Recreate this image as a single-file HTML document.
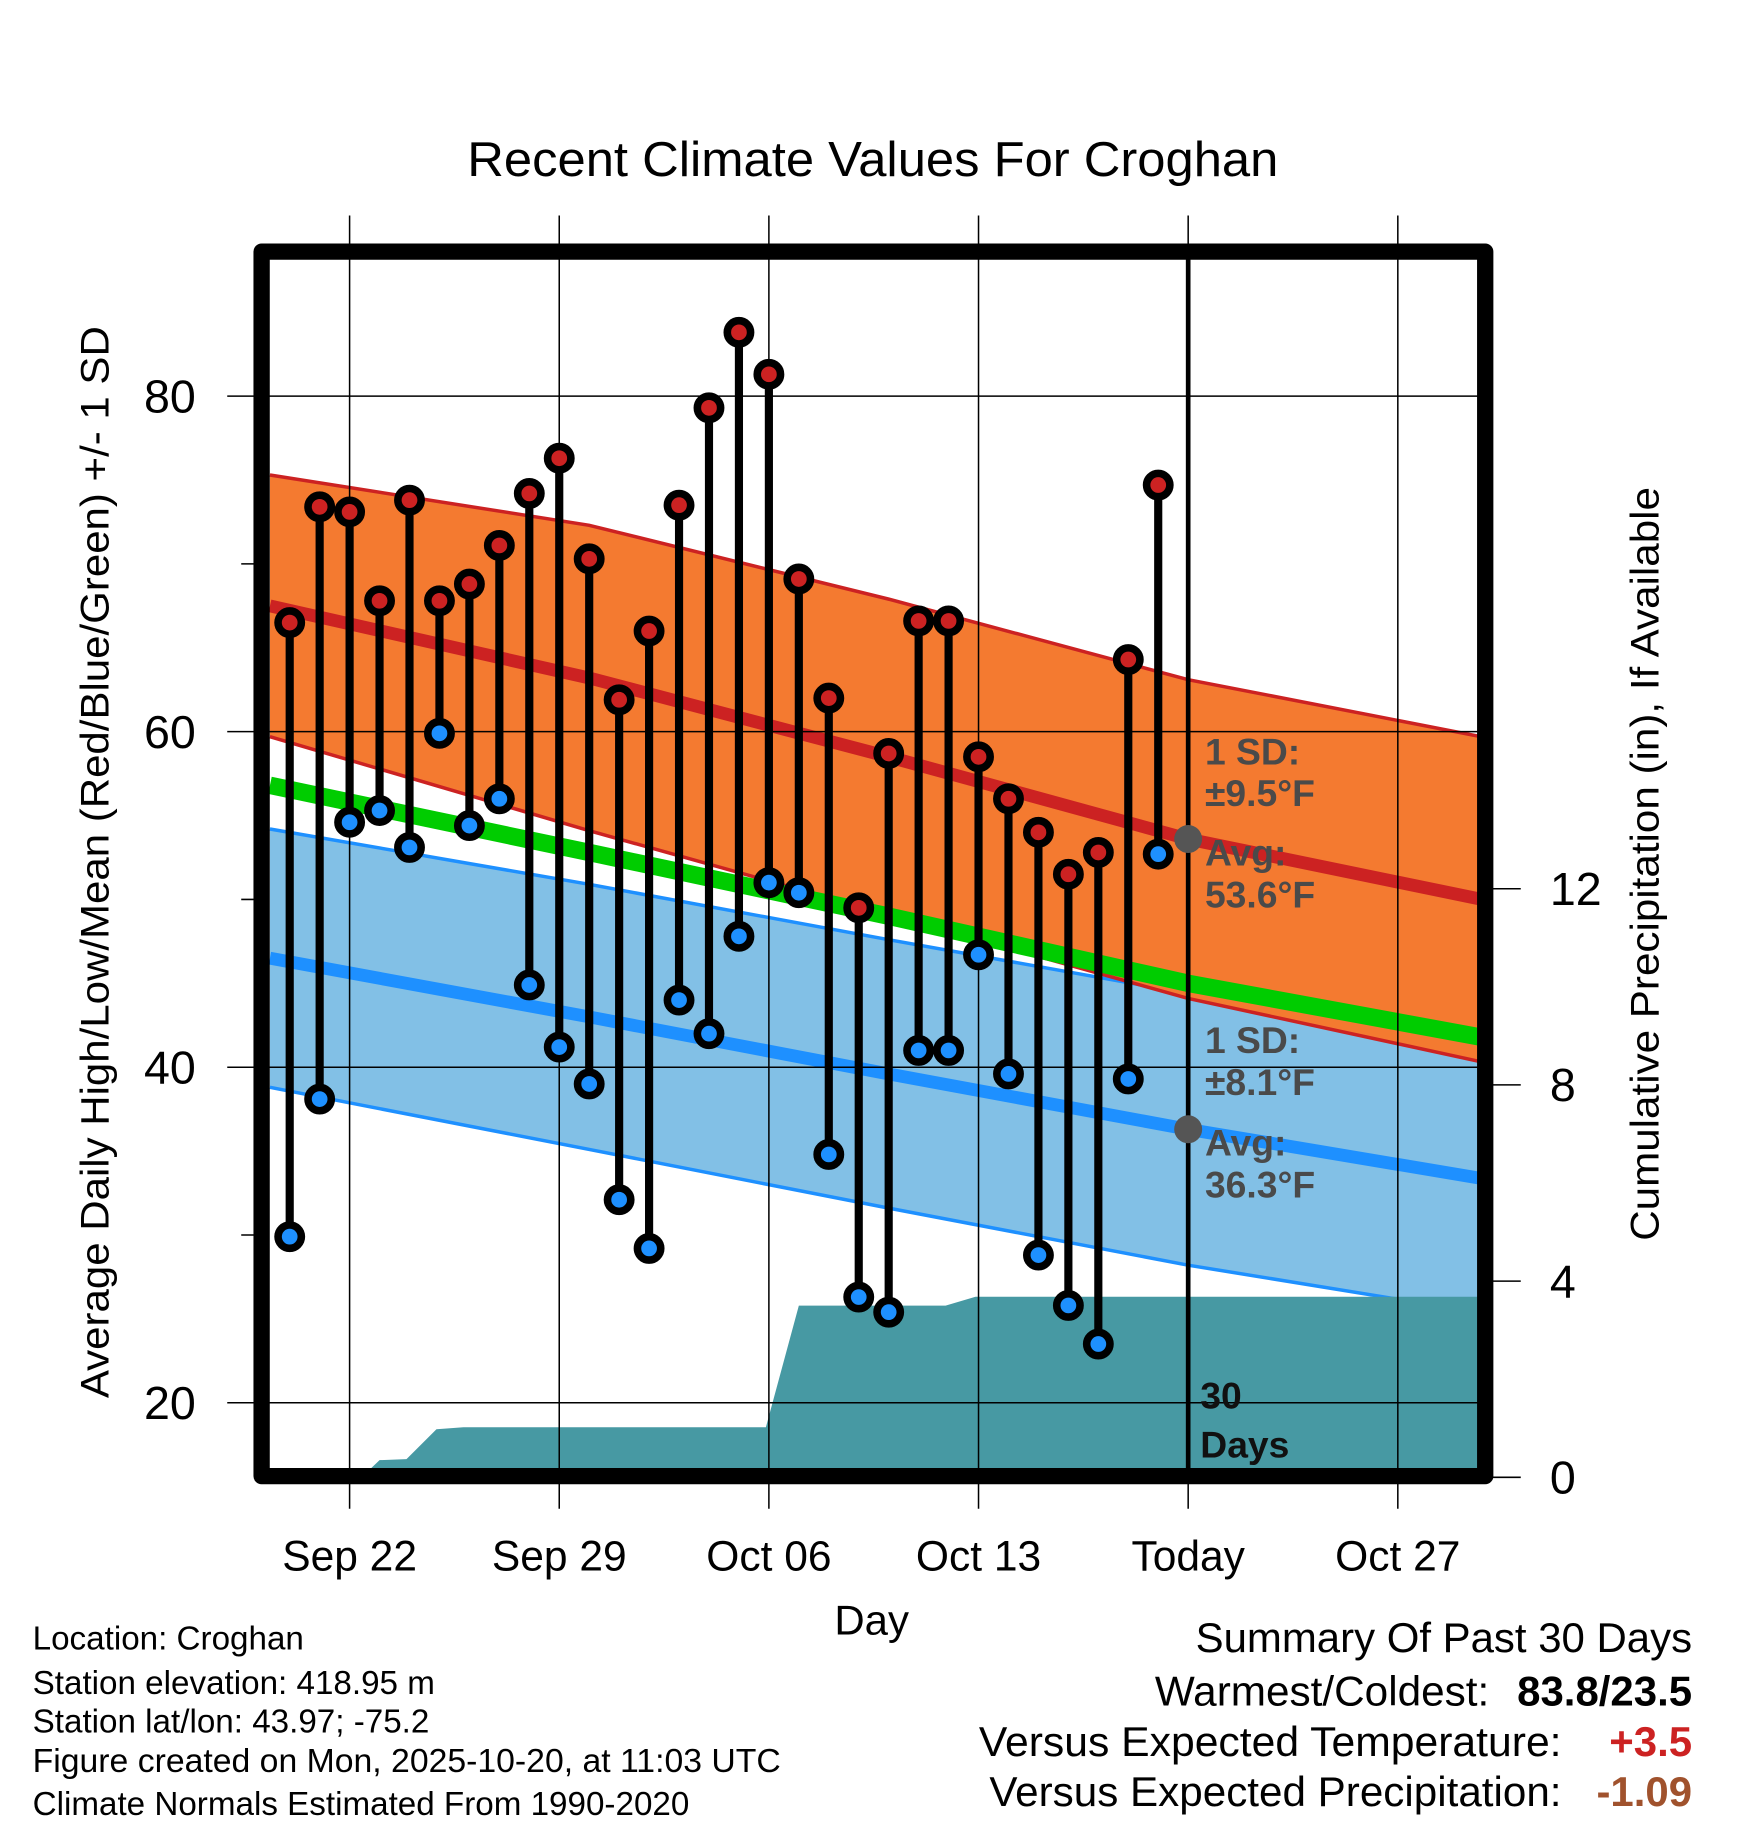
<!DOCTYPE html>
<html><head><meta charset="utf-8"><style>
html,body{margin:0;padding:0;background:#fff}
svg{display:block}
text{font-family:"Liberation Sans",sans-serif}
</style></head><body>
<svg id="chart" width="1748" height="1828" viewBox="0 0 1500 1569" preserveAspectRatio="none" xmlns="http://www.w3.org/2000/svg">
<g id="bands"></g>
<g id="grid"></g>
<g id="marks"></g>
<g id="labels"></g>
</svg>
<script>
// ---- data ----
const dayLabels = ["Sep 20","Sep 21","Sep 22","Sep 23","Sep 24","Sep 25","Sep 26","Sep 27","Sep 28","Sep 29","Sep 30","Oct 01","Oct 02","Oct 03","Oct 04","Oct 05","Oct 06","Oct 07","Oct 08","Oct 09","Oct 10","Oct 11","Oct 12","Oct 13","Oct 14","Oct 15","Oct 16","Oct 17","Oct 18","Oct 19"];
const highs = [66.5,73.4,73.1,67.8,73.8,67.8,68.8,71.1,74.2,76.3,70.3,61.9,66.0,73.5,79.3,83.8,81.3,69.1,62.0,49.5,58.7,66.6,66.6,58.5,56.0,54.0,51.5,52.8,64.3,74.7];
const lows = [29.9,38.1,54.6,55.3,53.1,59.9,54.4,56.0,44.9,41.2,39.0,32.1,29.2,44.0,42.0,47.8,51.0,50.4,34.8,26.3,25.4,41.0,41.0,46.7,39.6,28.8,25.8,23.5,39.3,52.7];
// normals at knot days (day offset from Sep 20)
const normDays = [-0.66, 10, 20, 30, 40.36];
const normHigh = [67.5, 63.2, 58.5, 53.6, 49.8];
const normHighSD = [7.8, 9.1, 9.4, 9.5, 9.7];
const normLow = [46.5, 43.0, 39.6, 36.3, 33.2];
const normLowSD = [7.7, 7.9, 8.0, 8.1, 8.0];
const normMean = [56.8, 52.8, 49.0, 45.0, 41.6];
// cumulative precipitation (inches) at day offsets
const precipDays = [2.4, 3.0, 3.9, 4.9, 5.8, 15.9, 17.0, 21.9, 22.9, 40.36];
const precipVals = [0, 0.35, 0.37, 0.98, 1.02, 1.02, 3.5, 3.5, 3.68, 3.68];
const xTickDays = [2, 9, 16, 23, 30, 37];
const xTickLabels = ["Sep 22","Sep 29","Oct 06","Oct 13","Today","Oct 27"];
const yTicks = [20, 40, 60, 80];
const yMinor = [30, 50, 70];
const pTicks = [0, 4, 8, 12];

// ---- scales ----
const L=231,R=1268,T=222,B=1260;
const x = d => 248.6 + d*25.7;
const y = t => 340 + (80 - t)*14.4;
const yp = p => 1268 - p*42.1;
const NS="http://www.w3.org/2000/svg";
function mk(tag, parent, attrs){const e=document.createElementNS(NS,tag);for(const k in attrs)e.setAttribute(k,attrs[k]);parent.appendChild(e);return e;}
const gB=document.getElementById('bands'),gG=document.getElementById('grid'),gM=document.getElementById('marks'),gL=document.getElementById('labels');

function bandPath(lowArr, highArr){
  let p=[];
  normDays.forEach((d,i)=>p.push(x(d)+','+y(highArr[i])));
  for(let i=normDays.length-1;i>=0;i--)p.push(x(normDays[i])+','+y(lowArr[i]));
  return 'M'+p.join('L')+'Z';
}
function linePts(arr){return normDays.map((d,i)=>x(d)+','+y(arr[i])).join(' ');}
const lowUp=normLow.map((v,i)=>v+normLowSD[i]), lowDn=normLow.map((v,i)=>v-normLowSD[i]);
const hiUp=normHigh.map((v,i)=>v+normHighSD[i]), hiDn=normHigh.map((v,i)=>v-normHighSD[i]);

let e=mk('path',gB,{d:bandPath(lowDn,lowUp),fill:'#82c0e6'});

e=mk('polyline',gB,{points:linePts(lowUp),fill:'none',stroke:'#1e90ff','stroke-width':3});

e=mk('polyline',gB,{points:linePts(lowDn),fill:'none',stroke:'#1e90ff','stroke-width':3});

e=mk('polyline',gB,{points:linePts(normLow),fill:'none',stroke:'#1e90ff','stroke-width':11});

e=mk('path',gB,{d:bandPath(hiDn,hiUp),fill:'#f47a30'});

e=mk('polyline',gB,{points:linePts(hiUp),fill:'none',stroke:'#cc2222','stroke-width':3});

e=mk('polyline',gB,{points:linePts(hiDn),fill:'none',stroke:'#cc2222','stroke-width':3});

e=mk('polyline',gB,{points:linePts(normHigh),fill:'none',stroke:'#cc2222','stroke-width':11});

e=mk('polyline',gB,{points:linePts(normMean),fill:'none',stroke:'#00cc00','stroke-width':15});

// precip
let pp=['M'+x(precipDays[0])+','+yp(0)];
precipDays.forEach((d,i)=>pp.push('L'+Math.min(x(d),R)+','+yp(precipVals[i])));
pp.push('L'+R+','+yp(0)+'Z');
e=mk('path',gB,{d:pp.join(''),fill:'#4799a3'});

mk('rect',gB,{x:0,y:0,width:L,height:1569,fill:'#fff'});
mk('rect',gB,{x:R,y:0,width:232,height:1569,fill:'#fff'});

// grid
xTickDays.forEach((d,i)=>{
  e=mk('line',gG,{x1:x(d),x2:x(d),y1:185,y2:1295,stroke:'#000','stroke-width':1.3});
  
  e=mk('text',gL,{x:x(d),y:1348,'text-anchor':'middle','font-size':36.5});
  e.textContent=xTickLabels[i];
  
});
yTicks.forEach(t=>{
  e=mk('line',gG,{x1:195,x2:R,y1:y(t),y2:y(t),stroke:'#000','stroke-width':1.3});
  
  e=mk('text',gL,{x:168,y:y(t)+14,'text-anchor':'end','font-size':40});
  e.textContent=t;
  
});
yMinor.forEach(t=>{
  e=mk('line',gG,{x1:207,x2:L,y1:y(t),y2:y(t),stroke:'#000','stroke-width':1.3});
  
});
pTicks.forEach(p=>{
  e=mk('line',gG,{x1:R,x2:1305,y1:yp(p),y2:yp(p),stroke:'#000','stroke-width':1.3});
  
  e=mk('text',gL,{x:1330,y:yp(p)+14,'text-anchor':'start','font-size':40});
  e.textContent=p;
  
});
// today line
e=mk('line',gM,{x1:x(30),x2:x(30),y1:T,y2:B,stroke:'#000','stroke-width':4});

highs.forEach((h,i)=>{
  e=mk('line',gM,{x1:x(i),x2:x(i),y1:y(h),y2:y(lows[i]),stroke:'#000','stroke-width':7});
  
});
highs.forEach((h,i)=>{
  e=mk('circle',gM,{cx:x(i),cy:y(h),r:10,fill:'#cc2222',stroke:'#000','stroke-width':6.5});
  
  e=mk('circle',gM,{cx:x(i),cy:y(lows[i]),r:10,fill:'#1e90ff',stroke:'#000','stroke-width':6.5});
  
});
e=mk('circle',gM,{cx:x(30),cy:y(normHigh[3]),r:12,fill:'#555'});

e=mk('circle',gM,{cx:x(30),cy:y(normLow[3]),r:12,fill:'#555'});

e=mk('rect',gM,{x:224.5,y:216,width:1050,height:1051,fill:'none',stroke:'#000','stroke-width':14,'stroke-linejoin':'round'});

</script>
<svg style="position:absolute;left:0;top:0" width="1748" height="1828" viewBox="0 0 1500 1569" preserveAspectRatio="none">
<g font-family="Liberation Sans, sans-serif">
<text x="401" y="151" font-size="42" textLength="696" lengthAdjust="spacingAndGlyphs">Recent Climate Values For Croghan</text>
<text transform="translate(93,1200) rotate(-90)" font-size="34" textLength="920" lengthAdjust="spacingAndGlyphs">Average Daily High/Low/Mean (Red/Blue/Green) +/- 1 SD</text>
<text transform="translate(1423,1065) rotate(-90)" font-size="34" textLength="647" lengthAdjust="spacingAndGlyphs">Cumulative Precipitation (in), If Available</text>
<text x="748" y="1403" text-anchor="middle" font-size="36">Day</text>
<g font-weight="bold" font-size="32" fill="#4a4a4a">
<text x="1034" y="656">1 SD:</text>
<text x="1034" y="692">±9.5°F</text>
<text x="1034" y="743">Avg:</text>
<text x="1034" y="779">53.6°F</text>
<text x="1034" y="904">1 SD:</text>
<text x="1034" y="940">±8.1°F</text>
<text x="1034" y="992">Avg:</text>
<text x="1034" y="1028">36.3°F</text>
</g>
<g font-weight="bold" font-size="32" fill="#111">
<text x="1030" y="1209">30</text>
<text x="1030" y="1251">Days</text>
</g>
<g font-size="28.5">
<text x="28" y="1416">Location: Croghan</text>
<text x="28" y="1454">Station elevation: 418.95 m</text>
<text x="28" y="1487">Station lat/lon: 43.97; -75.2</text>
<text x="28" y="1521" textLength="642" lengthAdjust="spacingAndGlyphs">Figure created on Mon, 2025-10-20, at 11:03 UTC</text>
<text x="28" y="1558">Climate Normals Estimated From 1990-2020</text>
</g>
<g font-size="36">
<text x="1026" y="1418" textLength="426" lengthAdjust="spacingAndGlyphs">Summary Of Past 30 Days</text>
<text x="991" y="1464" textLength="287" lengthAdjust="spacingAndGlyphs">Warmest/Coldest:</text>
<text x="1452" y="1464" text-anchor="end" font-weight="bold">83.8/23.5</text>
<text x="840" y="1507" textLength="500" lengthAdjust="spacingAndGlyphs">Versus Expected Temperature:</text>
<text x="1452" y="1507" text-anchor="end" font-weight="bold" fill="#cc2222">+3.5</text>
<text x="849" y="1550" textLength="491" lengthAdjust="spacingAndGlyphs">Versus Expected Precipitation:</text>
<text x="1452" y="1550" text-anchor="end" font-weight="bold" fill="#a0522d">-1.09</text>
</g>
</g>
</svg>
</body></html>
